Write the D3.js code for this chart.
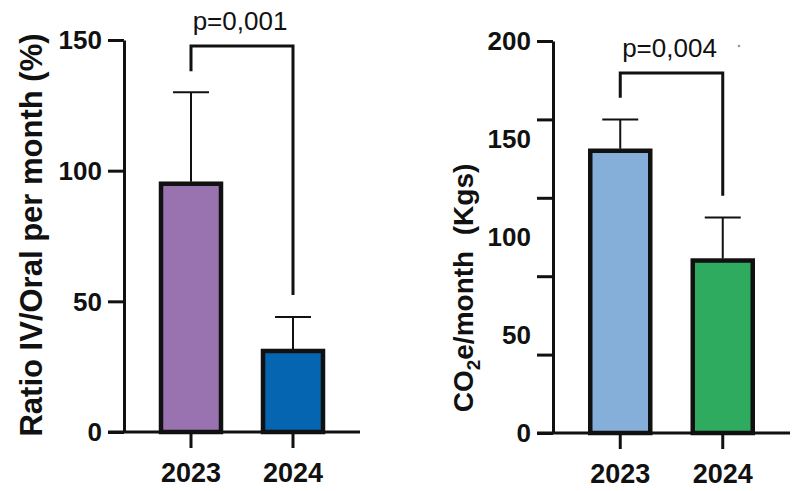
<!DOCTYPE html>
<html>
<head>
<meta charset="utf-8">
<script src="https://cdn.jsdelivr.net/npm/d3@7"></script>
<style>
  html, body { margin: 0; padding: 0; background: #fff; }
  svg { display: block; }
  text { font-family: "Liberation Sans", Arial, sans-serif; fill: #111; }
</style>
</head>
<body>
<svg id="chart" width="798" height="491"></svg>
<script>
// Years compared in both panels
const years = ["2023", "2024"];

// Panel A: ratio of IV to oral administration per month (%)
const ratioMean = [95, 31];
const ratioErrTop = [130, 44];
const ratioTicks = [0, 50, 100, 150];
const ratioLabels = [0, 50, 100, 150];
const ratioBracket = [138, 147.7, 52.4];   // left leg end, bar level, right leg end
const ratioP = "p=0,001";

// Panel B: CO2 equivalent per month (kg)
const co2Mean = [144, 88];
const co2ErrTop = [160, 110];
const co2Ticks = [0, 40, 80, 120, 160, 200];
const co2Labels = [0, 50, 100, 150, 200];
const co2Bracket = [171, 183.7, 121];
const co2P = "p=0,004";

const svg = d3.select("#chart");

function drawPanel(cfg) {
  const g = svg.append("g");
  const y = d3.scaleLinear().domain(cfg.domain).range([cfg.y0, cfg.y1]);
  const x = d3.scaleBand().domain(years).range(cfg.xRange).padding(0);
  const cx = d => x(d) + x.bandwidth() / 2;

  // y axis: tick marks without text, labels drawn separately
  const yAxis = g.append("g")
    .attr("transform", `translate(${cfg.axisX},0)`)
    .call(d3.axisLeft(y).tickValues(cfg.ticks).tickSize(16).tickSizeOuter(0).tickFormat(""));
  yAxis.select(".domain").attr("stroke", "#111").attr("stroke-width", 3);
  yAxis.selectAll(".tick line").attr("stroke", "#111").attr("stroke-width", 3);

  g.append("g").selectAll("text")
    .data(cfg.labels).join("text")
    .attr("x", cfg.axisX - 22)
    .attr("y", d => y(d))
    .attr("dy", "0.36em")
    .attr("text-anchor", "end")
    .attr("font-size", 26)
    .attr("font-weight", "bold")
    .text(d => d);

  // bars
  g.append("g").selectAll("rect")
    .data(cfg.mean).join("rect")
    .attr("x", (d, i) => cx(years[i]) - 30)
    .attr("width", 60)
    .attr("y", d => y(d))
    .attr("height", d => y(0) - y(d))
    .attr("fill", (d, i) => cfg.colors[i])
    .attr("stroke", "#111")
    .attr("stroke-width", 4.5);

  // error bars (upper side only)
  const eb = g.append("g").attr("stroke", "#111").attr("stroke-width", 2);
  cfg.mean.forEach((m, i) => {
    const c = cx(years[i]);
    eb.append("line").attr("x1", c).attr("x2", c)
      .attr("y1", y(m) - 2).attr("y2", y(cfg.err[i]));
    eb.append("line").attr("x1", c - 18).attr("x2", c + 18)
      .attr("y1", y(cfg.err[i])).attr("y2", y(cfg.err[i]));
  });

  // x axis
  const xAxis = g.append("g")
    .attr("transform", `translate(0,${cfg.y0})`)
    .call(d3.axisBottom(x).tickSize(16).tickSizeOuter(0));
  xAxis.select(".domain").remove();
  xAxis.selectAll(".tick line").attr("stroke", "#111").attr("stroke-width", 3);
  xAxis.selectAll(".tick text")
    .attr("y", 31).attr("dy", "0.71em")
    .attr("font-size", 27).attr("font-weight", "bold")
    .attr("font-family", "Liberation Sans, Arial, sans-serif")
    .attr("fill", "#111");
  g.append("line")
    .attr("x1", cfg.axisX - 16).attr("x2", cfg.xEnd)
    .attr("y1", y(0)).attr("y2", y(0))
    .attr("stroke", "#111").attr("stroke-width", 3);

  // significance bracket
  const xl = cx(years[0]), xr = cx(years[1]);
  const [legL, top, legR] = cfg.bracket;
  g.append("path")
    .attr("d", `M${xl},${y(legL)}V${y(top)}H${xr}V${y(legR)}`)
    .attr("fill", "none").attr("stroke", "#111").attr("stroke-width", 3)
    .attr("stroke-linejoin", "miter");
  g.append("text")
    .attr("x", (xl + xr) / 2 - 2)
    .attr("y", y(top) - 16)
    .attr("text-anchor", "middle")
    .attr("font-size", 26)
    .text(cfg.p);

  return g;
}

drawPanel({
  domain: [0, 150], y0: 432, y1: 40, xRange: [140, 344], axisX: 124, xEnd: 360,
  ticks: ratioTicks, labels: ratioLabels, mean: ratioMean, err: ratioErrTop,
  colors: ["#9873b0", "#0565b0"], bracket: ratioBracket, p: ratioP
});

const right = drawPanel({
  domain: [0, 200], y0: 433, y1: 41, xRange: [569, 774], axisX: 553, xEnd: 790,
  ticks: co2Ticks, labels: co2Labels, mean: co2Mean, err: co2ErrTop,
  colors: ["#85aed9", "#2fab5f"], bracket: co2Bracket, p: co2P
});

// small stray mark next to the second p-value
right.append("circle").attr("cx", 739).attr("cy", 46).attr("r", 1.3).attr("fill", "#999");

// y axis titles
svg.append("text")
  .attr("transform", "translate(42,235) rotate(-90)")
  .attr("text-anchor", "middle")
  .attr("font-size", 31)
  .attr("font-weight", "bold")
  .text("Ratio IV/Oral per month (%)");

const t2 = svg.append("text")
  .attr("transform", "translate(473,288) rotate(-90)")
  .attr("text-anchor", "middle")
  .attr("font-size", 28)
  .attr("font-weight", "bold")
  .attr("xml:space", "preserve");
t2.append("tspan").text("CO");
t2.append("tspan").attr("font-size", 19).attr("dy", 7).text("2");
t2.append("tspan").attr("dy", -7).text("e/month\u00a0\u00a0(Kgs)");
</script>
</body>
</html>
